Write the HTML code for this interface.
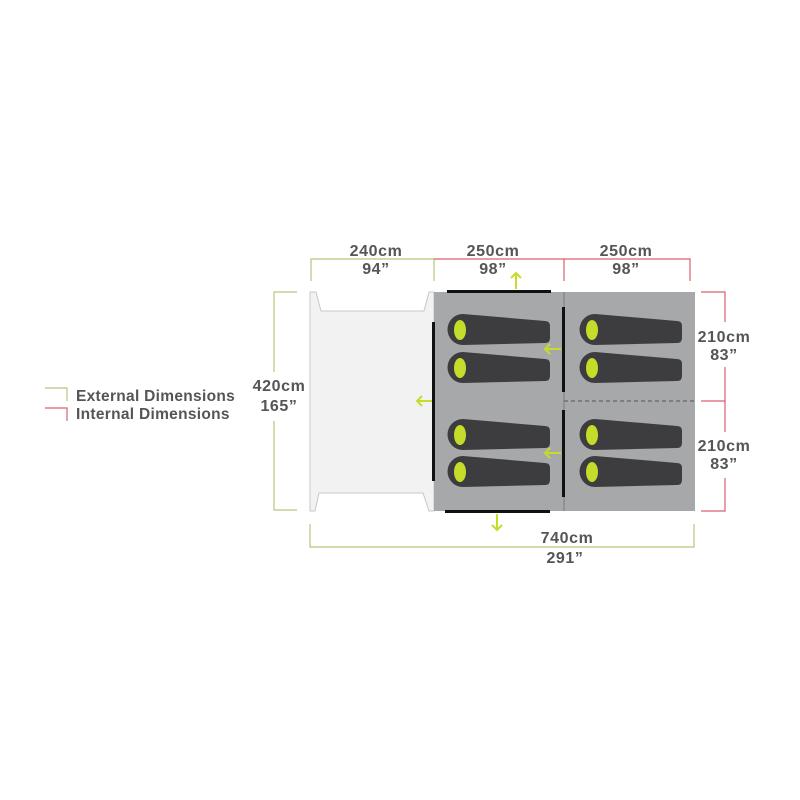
<!DOCTYPE html>
<html><head><style>body{margin:0;background:#fff}svg{display:block}text{font-family:"Liberation Sans",sans-serif;font-weight:bold;fill:#555}</style></head>
<body>
<svg width="800" height="800" viewBox="0 0 800 800" xmlns="http://www.w3.org/2000/svg">
<defs>
<g id="bag">
<path d="M16,-16 L98,-9 Q103,-9 103,-4 L103,8 Q103,13 98,13 L16,15 A15.5,15.5 0 0 1 16,-16 Z" fill="#3d3d3f"/>
<ellipse cx="13" cy="0" rx="6" ry="10" fill="#c5dc2a"/>
</g>
</defs>
<path d="M310,292 L316,292 L321,311 L424,311 L429,292 L434,292 L434,511 L429,511 L423,493 L319,493 L315,511 L310,511 Z" fill="#f2f2f2" stroke="#c8c8c8" stroke-width="1"/>
<rect x="434" y="292" width="261" height="219" fill="#a7a8aa"/>
<line x1="564" y1="292" x2="564" y2="511" stroke="#7c7d80" stroke-width="1"/>
<line x1="564" y1="401" x2="695" y2="401" stroke="#555" stroke-width="1" stroke-dasharray="4,3"/>
<g fill="#111">
<rect x="447" y="290" width="104" height="3"/>
<rect x="445" y="510" width="105" height="3"/>
<rect x="432" y="322" width="3" height="159"/>
<rect x="562" y="307" width="3" height="85"/>
<rect x="562" y="410" width="3" height="87"/>
</g>
<use href="#bag" x="447" y="330"/>
<use href="#bag" x="447" y="368"/>
<use href="#bag" x="447" y="435"/>
<use href="#bag" x="447" y="472"/>
<use href="#bag" x="579" y="330"/>
<use href="#bag" x="579" y="368"/>
<use href="#bag" x="579" y="435"/>
<use href="#bag" x="579" y="472"/>
<g stroke="#c5dc2a" stroke-width="2" fill="none">
<path d="M516,289 L516,273 M511,278 L516,273 L521,278"/>
<path d="M432,401 L417,401 M422,396 L417,401 L422,406"/>
<path d="M561,349 L545,349 M550,344 L545,349 L550,354"/>
<path d="M561,453 L545,453 M550,448 L545,453 L550,458"/>
<path d="M497,514 L497,530 M492,525 L497,530 L502,525"/>
</g>
<g fill="none" stroke-width="1.2">
<path d="M311,281 L311,259 L434,259 L434,281" stroke="#b5c77a"/>
<path d="M434,259 L690,259 L690,281 M564,259 L564,281" stroke="#d9606e"/>
<path d="M297,292 L274,292 L274,372 M274,421 L274,510 L297,510" stroke="#b5c77a"/>
<path d="M701,292 L725,292 L725,322 M725,367 L725,432 M725,478 L725,511 L701,511 M701,401 L725,401" stroke="#d9606e"/>
<path d="M310,524 L310,547 L694,547 L694,524" stroke="#b5c77a"/>
<path d="M45,388 L67,388 L67,401" stroke="#b5c77a"/>
<path d="M45,408 L67,408 L67,421" stroke="#d9606e"/>
</g>
<g font-size="16" text-anchor="middle" letter-spacing="0.6">
<text x="376" y="256">240cm</text><text x="376" y="274">94”</text>
<text x="493" y="256">250cm</text><text x="493" y="274">98”</text>
<text x="626" y="256">250cm</text><text x="626" y="274">98”</text>
<text x="279" y="391">420cm</text><text x="279" y="411">165”</text>
<text x="724" y="342">210cm</text><text x="724" y="360">83”</text>
<text x="724" y="451">210cm</text><text x="724" y="469">83”</text>
<text x="567" y="543">740cm</text><text x="565" y="563">291”</text>
</g>
<g font-size="15.5" letter-spacing="0.3">
<text x="76" y="401">External Dimensions</text>
<text x="76" y="419">Internal Dimensions</text>
</g>
</svg>
</body></html>
